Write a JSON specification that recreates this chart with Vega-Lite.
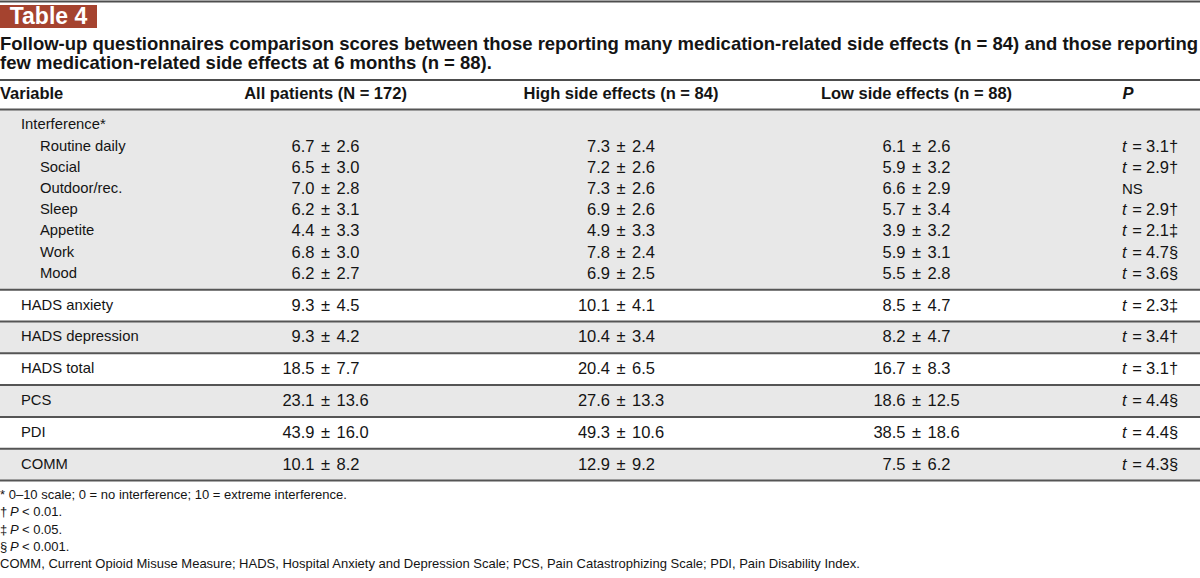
{
  "$schema": "https://vega.github.io/schema/vega-lite/v6.json",
  "width": 1200,
  "height": 578,
  "padding": 0,
  "autosize": {"type": "none"},
  "background": "#ffffff",
  "config": {
    "view": {"stroke": null},
    "text": {"font": "Liberation Sans", "color": "#141414", "fontSize": 16.5, "baseline": "middle"}
  },
  "datasets": {
    "toprules": [{"r": "top"}, {"r": "title"}],
    "badge": [{"label": "Table 4"}],
    "title": [
      {"line": "t1", "text": "Follow-up questionnaires comparison scores between those reporting many medication-related side effects (n = 84) and those reporting"},
      {"line": "t2", "text": "few medication-related side effects at 6 months (n = 88)."}
    ],
    "notes": [
      {"line": "f1", "txt": "* 0–10 scale; 0 = no interference; 10 = extreme interference."},
      {"line": "f2", "sym": "†", "it": "P", "rest": "< 0.01."},
      {"line": "f3", "sym": "‡", "it": "P", "rest": "< 0.05."},
      {"line": "f4", "sym": "§", "it": "P", "rest": "< 0.001."},
      {"line": "f5", "txt": "COMM, Current Opioid Misuse Measure; HADS, Hospital Anxiety and Depression Scale; PCS, Pain Catastrophizing Scale; PDI, Pain Disability Index."}
    ],
    "bands": [
      {"from": "R0", "to": "R1"},
      {"from": "R2", "to": "R3"},
      {"from": "R4", "to": "R5"},
      {"from": "R6", "to": "R7"}
    ],
    "rules": [{"r": "R0"}, {"r": "R1"}, {"r": "R2"}, {"r": "R3"}, {"r": "R4"}, {"r": "R5"}, {"r": "R6"}, {"r": "R7"}],
    "headers": [
      {"g": "Variable", "label": "Variable"},
      {"g": "All", "label": "All patients (N = 172)"},
      {"g": "High", "label": "High side effects (n = 84)"},
      {"g": "Low", "label": "Low side effects (n = 88)"},
      {"g": "P", "label": "P"}
    ],
    "rows": [
      {"v": "Interference*", "kind": "group"},
      {"v": "Routine daily", "kind": "item"},
      {"v": "Social", "kind": "item"},
      {"v": "Outdoor/rec.", "kind": "item"},
      {"v": "Sleep", "kind": "item"},
      {"v": "Appetite", "kind": "item"},
      {"v": "Work", "kind": "item"},
      {"v": "Mood", "kind": "item"},
      {"v": "HADS anxiety", "kind": "main"},
      {"v": "HADS depression", "kind": "main"},
      {"v": "HADS total", "kind": "main"},
      {"v": "PCS", "kind": "main"},
      {"v": "PDI", "kind": "main"},
      {"v": "COMM", "kind": "main"}
    ],
    "cells": [
      {"v": "Routine daily", "g": "All", "m": 6.7, "s": 2.6},
      {"v": "Routine daily", "g": "High", "m": 7.3, "s": 2.4},
      {"v": "Routine daily", "g": "Low", "m": 6.1, "s": 2.6},
      {"v": "Social", "g": "All", "m": 6.5, "s": 3.0},
      {"v": "Social", "g": "High", "m": 7.2, "s": 2.6},
      {"v": "Social", "g": "Low", "m": 5.9, "s": 3.2},
      {"v": "Outdoor/rec.", "g": "All", "m": 7.0, "s": 2.8},
      {"v": "Outdoor/rec.", "g": "High", "m": 7.3, "s": 2.6},
      {"v": "Outdoor/rec.", "g": "Low", "m": 6.6, "s": 2.9},
      {"v": "Sleep", "g": "All", "m": 6.2, "s": 3.1},
      {"v": "Sleep", "g": "High", "m": 6.9, "s": 2.6},
      {"v": "Sleep", "g": "Low", "m": 5.7, "s": 3.4},
      {"v": "Appetite", "g": "All", "m": 4.4, "s": 3.3},
      {"v": "Appetite", "g": "High", "m": 4.9, "s": 3.3},
      {"v": "Appetite", "g": "Low", "m": 3.9, "s": 3.2},
      {"v": "Work", "g": "All", "m": 6.8, "s": 3.0},
      {"v": "Work", "g": "High", "m": 7.8, "s": 2.4},
      {"v": "Work", "g": "Low", "m": 5.9, "s": 3.1},
      {"v": "Mood", "g": "All", "m": 6.2, "s": 2.7},
      {"v": "Mood", "g": "High", "m": 6.9, "s": 2.5},
      {"v": "Mood", "g": "Low", "m": 5.5, "s": 2.8},
      {"v": "HADS anxiety", "g": "All", "m": 9.3, "s": 4.5},
      {"v": "HADS anxiety", "g": "High", "m": 10.1, "s": 4.1},
      {"v": "HADS anxiety", "g": "Low", "m": 8.5, "s": 4.7},
      {"v": "HADS depression", "g": "All", "m": 9.3, "s": 4.2},
      {"v": "HADS depression", "g": "High", "m": 10.4, "s": 3.4},
      {"v": "HADS depression", "g": "Low", "m": 8.2, "s": 4.7},
      {"v": "HADS total", "g": "All", "m": 18.5, "s": 7.7},
      {"v": "HADS total", "g": "High", "m": 20.4, "s": 6.5},
      {"v": "HADS total", "g": "Low", "m": 16.7, "s": 8.3},
      {"v": "PCS", "g": "All", "m": 23.1, "s": 13.6},
      {"v": "PCS", "g": "High", "m": 27.6, "s": 13.3},
      {"v": "PCS", "g": "Low", "m": 18.6, "s": 12.5},
      {"v": "PDI", "g": "All", "m": 43.9, "s": 16.0},
      {"v": "PDI", "g": "High", "m": 49.3, "s": 10.6},
      {"v": "PDI", "g": "Low", "m": 38.5, "s": 18.6},
      {"v": "COMM", "g": "All", "m": 10.1, "s": 8.2},
      {"v": "COMM", "g": "High", "m": 12.9, "s": 9.2},
      {"v": "COMM", "g": "Low", "m": 7.5, "s": 6.2}
    ],
    "pvals": [
      {"v": "Routine daily", "p": "3.1†"},
      {"v": "Social", "p": "2.9†"},
      {"v": "Outdoor/rec.", "p": "NS"},
      {"v": "Sleep", "p": "2.9†"},
      {"v": "Appetite", "p": "2.1‡"},
      {"v": "Work", "p": "4.7§"},
      {"v": "Mood", "p": "3.6§"},
      {"v": "HADS anxiety", "p": "2.3‡"},
      {"v": "HADS depression", "p": "3.4†"},
      {"v": "HADS total", "p": "3.1†"},
      {"v": "PCS", "p": "4.4§"},
      {"v": "PDI", "p": "4.4§"},
      {"v": "COMM", "p": "4.3§"}
    ]
  },
  "resolve": {"scale": {"x": "independent", "y": "independent"}},
  "layer": [
    {
      "data": {"name": "toprules"},
      "mark": {"type": "rule", "color": "#4d4d4d", "strokeWidth": 2},
      "encoding": {
        "y": {"field": "r", "type": "nominal", "scale": {"type": "point", "domain": ["top", "title"], "range": [1.5, 80], "padding": 0}, "axis": null}
      }
    },
    {
      "data": {"name": "badge"},
      "encoding": {
        "x": {"field": "label", "type": "nominal", "scale": {"type": "band", "domain": ["Table 4"], "range": [0, 97], "paddingInner": 0, "paddingOuter": 0}, "axis": null},
        "y": {"field": "label", "type": "nominal", "scale": {"type": "band", "domain": ["Table 4"], "range": [5, 28], "paddingInner": 0, "paddingOuter": 0}, "axis": null}
      },
      "layer": [
        {"mark": {"type": "rect", "color": "#a5432f"}},
        {"mark": {"type": "text", "color": "#ffffff", "fontWeight": "bold", "fontSize": 23, "align": "center"}, "encoding": {"text": {"field": "label"}}}
      ]
    },
    {
      "data": {"name": "title"},
      "mark": {"type": "text", "align": "left", "fontWeight": "bold", "fontSize": 18.5},
      "encoding": {
        "x": {"datum": "L", "type": "nominal", "scale": {"type": "point", "domain": ["L", "R"], "range": [0, 1200], "padding": 0}, "axis": null},
        "y": {"field": "line", "type": "nominal", "scale": {"type": "point", "domain": ["t1", "t2"], "range": [44, 63], "padding": 0}, "axis": null},
        "text": {"field": "text"}
      }
    },
    {
      "data": {"name": "notes"},
      "encoding": {
        "x": {"datum": "L", "type": "nominal", "scale": {"type": "point", "domain": ["L", "R"], "range": [0, 1200], "padding": 0}, "axis": null},
        "y": {"field": "line", "type": "nominal", "scale": {"type": "point", "domain": ["f1", "f2", "f3", "f4", "f5"], "range": [495, 564], "padding": 0}, "axis": null}
      },
      "layer": [
        {"transform": [{"filter": "isValid(datum.txt)"}], "mark": {"type": "text", "align": "left", "fontSize": 13}, "encoding": {"text": {"field": "txt"}}},
        {"transform": [{"filter": "isValid(datum.sym)"}], "mark": {"type": "text", "align": "left", "fontSize": 13}, "encoding": {"text": {"field": "sym"}}},
        {"transform": [{"filter": "isValid(datum.sym)"}], "mark": {"type": "text", "align": "left", "fontSize": 13, "fontStyle": "italic", "dx": 10}, "encoding": {"text": {"field": "it"}}},
        {"transform": [{"filter": "isValid(datum.sym)"}], "mark": {"type": "text", "align": "left", "fontSize": 13, "dx": 22}, "encoding": {"text": {"field": "rest"}}}
      ]
    },
    {
      "layer": [
        {
          "data": {"name": "bands"},
          "mark": {"type": "rect", "color": "#e8e8e8"},
          "encoding": {
            "y": {"field": "from", "type": "nominal", "scale": {"type": "point", "padding": 0, "range": [93.6, 480.5], "domain": ["H", "_1", "_2", "R0", "_4", "_5", "Interference*", "_7", "_8", "_9", "Routine daily", "_11", "_12", "_13", "Social", "_15", "_16", "_17", "Outdoor/rec.", "_19", "_20", "_21", "Sleep", "_23", "_24", "_25", "Appetite", "_27", "_28", "_29", "Work", "_31", "_32", "_33", "Mood", "_35", "_36", "R1", "_38", "_39", "HADS anxiety", "_41", "_42", "R2", "_44", "_45", "HADS depression", "_47", "_48", "R3", "_50", "_51", "HADS total", "_53", "_54", "R4", "_56", "_57", "PCS", "_59", "_60", "R5", "_62", "_63", "PDI", "_65", "_66", "R6", "_68", "_69", "COMM", "_71", "_72", "R7"]}, "axis": null},
            "y2": {"field": "to"}
          }
        },
        {
          "data": {"name": "rules"},
          "mark": {"type": "rule", "color": "#555555", "strokeWidth": 2},
          "encoding": {"y": {"field": "r", "type": "nominal", "axis": null}}
        },
        {
          "data": {"name": "headers"},
          "transform": [{"filter": "datum.g === 'Variable'"}],
          "mark": {"type": "text", "align": "left", "fontWeight": "bold", "fontSize": 16.5, "dx": -30},
          "encoding": {
            "x": {"field": "g", "type": "nominal", "scale": {"type": "point", "padding": 0, "domain": ["Variable", "All", "High", "Low", "P"], "range": [30, 1212]}, "axis": null},
            "y": {"datum": "H", "type": "nominal", "axis": null},
            "text": {"field": "label"}
          }
        },
        {
          "data": {"name": "headers"},
          "transform": [{"filter": {"field": "g", "oneOf": ["All", "High", "Low"]}}],
          "mark": {"type": "text", "align": "center", "fontWeight": "bold", "fontSize": 16.5},
          "encoding": {
            "x": {"field": "g", "type": "nominal", "axis": null},
            "y": {"datum": "H", "type": "nominal", "axis": null},
            "text": {"field": "label"}
          }
        },
        {
          "data": {"name": "headers"},
          "transform": [{"filter": "datum.g === 'P'"}],
          "mark": {"type": "text", "align": "center", "fontWeight": "bold", "fontStyle": "italic", "fontSize": 16.5, "dx": -84},
          "encoding": {
            "x": {"field": "g", "type": "nominal", "axis": null},
            "y": {"datum": "H", "type": "nominal", "axis": null},
            "text": {"field": "label"}
          }
        },
        {
          "data": {"name": "rows"},
          "transform": [{"filter": "datum.kind !== 'item'"}],
          "mark": {"type": "text", "align": "left", "fontSize": 14.8, "dx": -9},
          "encoding": {
            "x": {"datum": "Variable", "type": "nominal", "axis": null},
            "y": {"field": "v", "type": "nominal", "axis": null},
            "text": {"field": "v"}
          }
        },
        {
          "data": {"name": "rows"},
          "transform": [{"filter": "datum.kind === 'item'"}],
          "mark": {"type": "text", "align": "left", "fontSize": 14.8, "dx": 10},
          "encoding": {
            "x": {"datum": "Variable", "type": "nominal", "axis": null},
            "y": {"field": "v", "type": "nominal", "axis": null},
            "text": {"field": "v"}
          }
        },
        {
          "data": {"name": "cells"},
          "mark": {"type": "text", "align": "right", "dx": -11},
          "encoding": {
            "x": {"field": "g", "type": "nominal", "axis": null},
            "y": {"field": "v", "type": "nominal", "axis": null},
            "text": {"field": "m", "type": "quantitative", "format": ".1f"}
          }
        },
        {
          "data": {"name": "cells"},
          "mark": {"type": "text", "align": "center"},
          "encoding": {
            "x": {"field": "g", "type": "nominal", "axis": null},
            "y": {"field": "v", "type": "nominal", "axis": null},
            "text": {"value": "±"}
          }
        },
        {
          "data": {"name": "cells"},
          "mark": {"type": "text", "align": "left", "dx": 11},
          "encoding": {
            "x": {"field": "g", "type": "nominal", "axis": null},
            "y": {"field": "v", "type": "nominal", "axis": null},
            "text": {"field": "s", "type": "quantitative", "format": ".1f"}
          }
        },
        {
          "data": {"name": "pvals"},
          "transform": [{"filter": "datum.p !== 'NS'"}],
          "mark": {"type": "text", "align": "left", "fontStyle": "italic", "dx": -90},
          "encoding": {
            "x": {"datum": "P", "type": "nominal", "axis": null},
            "y": {"field": "v", "type": "nominal", "axis": null},
            "text": {"value": "t"}
          }
        },
        {
          "data": {"name": "pvals"},
          "transform": [{"filter": "datum.p !== 'NS'"}],
          "mark": {"type": "text", "align": "center", "dx": -75},
          "encoding": {
            "x": {"datum": "P", "type": "nominal", "axis": null},
            "y": {"field": "v", "type": "nominal", "axis": null},
            "text": {"value": "="}
          }
        },
        {
          "data": {"name": "pvals"},
          "transform": [{"filter": "datum.p !== 'NS'"}],
          "mark": {"type": "text", "align": "left", "dx": -66},
          "encoding": {
            "x": {"datum": "P", "type": "nominal", "axis": null},
            "y": {"field": "v", "type": "nominal", "axis": null},
            "text": {"field": "p"}
          }
        },
        {
          "data": {"name": "pvals"},
          "transform": [{"filter": "datum.p === 'NS'"}],
          "mark": {"type": "text", "align": "left", "fontSize": 15, "dx": -90},
          "encoding": {
            "x": {"datum": "P", "type": "nominal", "axis": null},
            "y": {"field": "v", "type": "nominal", "axis": null},
            "text": {"field": "p"}
          }
        }
      ]
    }
  ]
}
